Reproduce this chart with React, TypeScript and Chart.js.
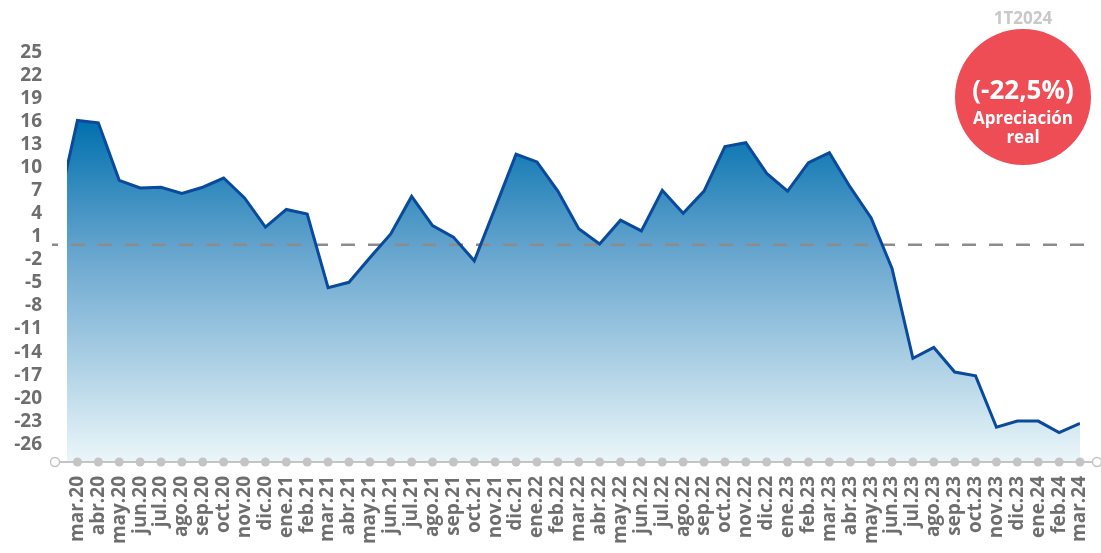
import React, { useEffect, useRef } from "react";
import { Chart, registerables } from "chart.js";

Chart.register(...registerables);

const months = [
  "mar.20", "abr.20", "may.20", "jun.20", "jul.20", "ago.20", "sep.20", "oct.20", "nov.20", "dic.20",
  "ene.21", "feb.21", "mar.21", "abr.21", "may.21", "jun.21", "jul.21", "ago.21", "sep.21", "oct.21", "nov.21", "dic.21",
  "ene.22", "feb.22", "mar.22", "abr.22", "may.22", "jun.22", "jul.22", "ago.22", "sep.22", "oct.22", "nov.22", "dic.22",
  "ene.23", "feb.23", "mar.23", "abr.23", "may.23", "jun.23", "jul.23", "ago.23", "sep.23", "oct.23", "nov.23", "dic.23",
  "ene.24", "feb.24", "mar.24",
];

const values = [
  16.2, 15.9, 8.4, 7.4, 7.5, 6.7, 7.5, 8.7, 6.1, 2.3,
  4.6, 4.0, -5.6, -4.9, -1.7, 1.4, 6.3, 2.5, 1.0, -2.1, 4.8, 11.8,
  10.8, 7.0, 2.1, 0.1, 3.2, 1.8, 7.1, 4.1, 7.0, 12.8, 13.3, 9.3,
  7.0, 10.7, 12.0, 7.5, 3.5, -3.1, -14.8, -13.4, -16.6, -17.1, -23.8, -23.0,
  -23.0, -24.5, -23.3,
];

// previous month (feb.20): only its clipped segment is visible at the left edge
const leadValue = 4.0;

const yTicks = [25, 22, 19, 16, 13, 10, 7, 4, 1, -2, -5, -8, -11, -14, -17, -20, -23, -26];

const badgePeriod = "1T2024";
const badgeValue = "(-22,5%)";
const badgeLines = ["Apreciación", "real"];

const FONT = "'Open Sans', 'DejaVu Sans', sans-serif";
const LABEL_COLOR = "#6e6e6e";

const decor = {
  id: "decor",
  beforeDatasetsDraw(chart: any) {
    const { ctx, chartArea: a, scales } = chart;
    const y0 = scales.y.getPixelForValue(0);
    ctx.save();
    ctx.strokeStyle = "#8c8c8c";
    ctx.lineWidth = 2.5;
    ctx.setLineDash([14, 13]);
    ctx.lineDashOffset = 8;
    ctx.beginPath();
    ctx.moveTo(a.left - 15, y0);
    ctx.lineTo(a.right + 17, y0);
    ctx.stroke();
    ctx.restore();
  },
  afterDatasetsDraw(chart: any) {
    const { ctx, chartArea: a, scales } = chart;
    const yb = a.bottom + 1;
    ctx.save();
    ctx.strokeStyle = "#c4c4c4";
    ctx.lineWidth = 2;
    ctx.beginPath();
    ctx.moveTo(a.left - 12, yb);
    ctx.lineTo(a.right + 17, yb);
    ctx.stroke();
    ctx.fillStyle = "#c4c4c4";
    months.forEach((_, i) => {
      const x = scales.x.getPixelForValue(i);
      ctx.beginPath();
      ctx.arc(x, yb, 4.5, 0, Math.PI * 2);
      ctx.fill();
    });
    [a.left - 12, a.right + 17].forEach((x) => {
      ctx.beginPath();
      ctx.arc(x, yb, 4.5, 0, Math.PI * 2);
      ctx.fillStyle = "#ffffff";
      ctx.fill();
      ctx.lineWidth = 1.5;
      ctx.strokeStyle = "#c4c4c4";
      ctx.stroke();
    });
    ctx.restore();
  },
};

export default function App() {
  const ref = useRef<HTMLCanvasElement | null>(null);

  useEffect(() => {
    if (!ref.current) return;
    const points = [{ x: -1, y: leadValue }, ...values.map((v, i) => ({ x: i, y: v }))];
    const chart = new Chart(ref.current, {
      type: "line",
      data: {
        datasets: [
          {
            data: points,
            borderColor: "#0a4a9c",
            borderWidth: 3,
            pointRadius: 0,
            tension: 0,
            fill: "start",
            backgroundColor: (c: any) => {
              const ch = c.chart;
              const area = ch.chartArea;
              if (!area) return "rgba(0,0,0,0)";
              const top = ch.scales.y.getPixelForValue(Math.max(...values));
              const g = ch.ctx.createLinearGradient(0, top, 0, area.bottom);
              g.addColorStop(0, "#0070ae");
              g.addColorStop(0.4, "#6aa7cf");
              g.addColorStop(1, "#eaf6f9");
              return g;
            },
          },
        ],
      },
      options: {
        animation: false,
        responsive: false,
        layout: { padding: { top: 30, right: 21, left: 0, bottom: 0 } },
        plugins: {
          legend: { display: false },
          tooltip: { enabled: false },
          filler: { drawTime: "beforeDatasetsDraw" },
        },
        scales: {
          x: {
            type: "linear",
            min: -0.5,
            max: months.length - 1,
            afterBuildTicks: (s: any) => {
              s.ticks = months.map((_, i) => ({ value: i }));
            },
            afterFit: (s: any) => {
              s.height = 92;
              s.paddingLeft = 0;
              s.paddingRight = 0;
            },
            ticks: {
              autoSkip: false,
              minRotation: 90,
              maxRotation: 90,
              padding: 15,
              color: LABEL_COLOR,
              font: { family: FONT, size: 19, weight: "bold" },
              callback: (v: any) => months[v as number] ?? "",
            },
            grid: { display: false, drawTicks: false },
            border: { display: false },
          },
          y: {
            min: -28.2,
            max: 28,
            afterBuildTicks: (s: any) => {
              s.ticks = yTicks.map((v) => ({ value: v }));
            },
            afterFit: (s: any) => {
              s.width = 67;
              s.paddingTop = 0;
              s.paddingBottom = 0;
            },
            ticks: {
              autoSkip: false,
              padding: 25,
              color: LABEL_COLOR,
              font: { family: FONT, size: 19, weight: "bold" },
              callback: (v: any) => String(v),
            },
            grid: { display: false, drawTicks: false },
            border: { display: false },
          },
        },
      },
      plugins: [decor],
    } as any);
    return () => chart.destroy();
  }, []);

  const cx = 1023;
  const cy = 97;
  const r = 68;

  const textLine = (text: string, centerY: number, size: number, color: string, key: string) => (
    <div
      key={key}
      style={{
        position: "absolute",
        left: cx - 90,
        width: 180,
        top: centerY - size * 0.7,
        height: size * 1.4,
        lineHeight: `${size * 1.4}px`,
        textAlign: "center",
        fontFamily: FONT,
        fontWeight: 700,
        fontSize: size,
        color,
        whiteSpace: "nowrap",
      }}
    >
      {text}
    </div>
  );

  return (
    <div style={{ position: "absolute", left: 0, top: 0, width: 1101, height: 553, background: "#ffffff" }}>
      <canvas ref={ref} width={1101} height={553} style={{ display: "block", width: 1101, height: 553 }} />
      <div
        style={{
          position: "absolute",
          left: cx - r,
          top: cy - r,
          width: r * 2,
          height: r * 2,
          borderRadius: "50%",
          background: "#ee4d56",
        }}
      />
      {textLine(badgePeriod, 18, 17, "#c8c8c8", "p")}
      {textLine(badgeValue, 89, 26, "#ffffff", "v")}
      {textLine(badgeLines[0], 118, 17, "#ffffff", "l0")}
      {textLine(badgeLines[1], 137, 17, "#ffffff", "l1")}
    </div>
  );
}
